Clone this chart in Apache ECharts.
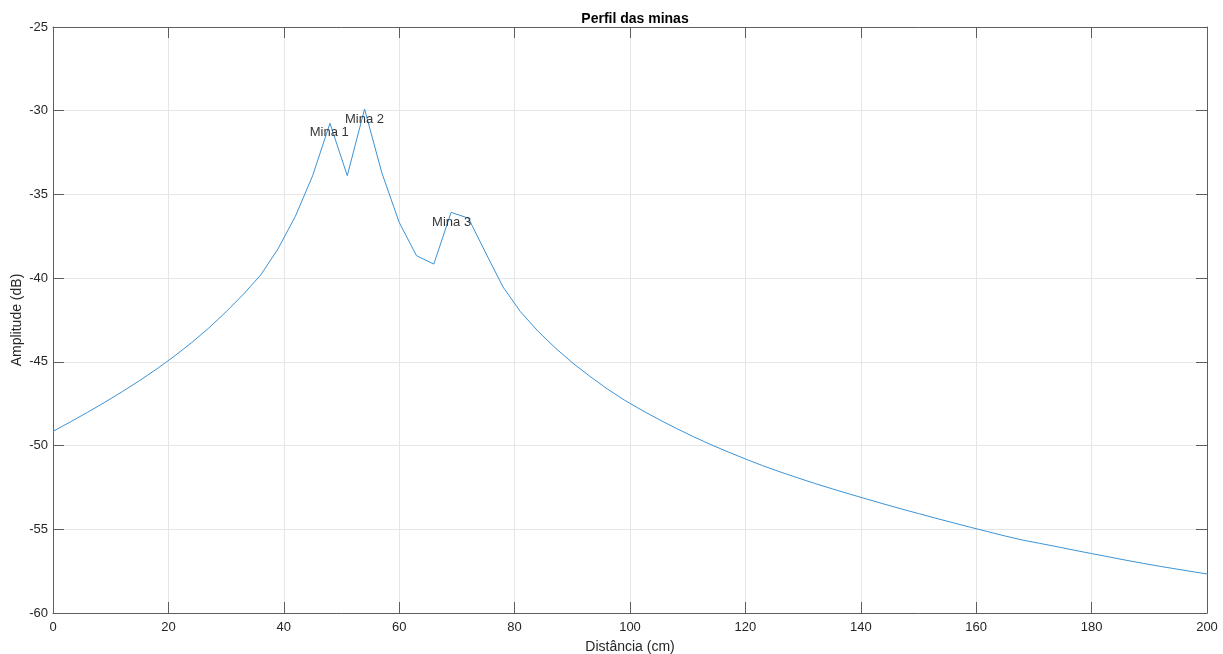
<!DOCTYPE html>
<html>
<head>
<meta charset="utf-8">
<title>Perfil das minas</title>
<script src="https://cdn.jsdelivr.net/npm/echarts@6/dist/echarts.min.js"></script>
<style>
  html, body { margin: 0; padding: 0; background: #ffffff; }
  #chart { width: 1223px; height: 654px; }
</style>
</head>
<body>
<div id="chart"></div>
<script>
// Scan positions along the track (cm)
const distance = [
  0, 3, 6, 9, 12, 15, 18, 21, 24, 27, 30, 33, 36, 39, 42, 45, 48, 51, 54, 57,
  60, 63, 66, 69, 72, 75, 78, 81, 84, 87, 90, 93, 96, 99, 102, 105, 108, 111,
  114, 117, 120, 123, 126, 129, 132, 135, 138, 141, 144, 147, 150, 153, 156,
  159, 162, 165, 168, 171, 174, 177, 180, 183, 186, 189, 192, 195, 198, 201
];

// Received amplitude at each position (dB)
const amplitude = [
  -49.15, -48.59, -48.01, -47.41, -46.78, -46.12, -45.42, -44.67, -43.86, -42.98,
  -42.01, -40.96, -39.81, -38.25, -36.31, -33.88, -30.75, -33.88, -29.90, -33.72,
  -36.67, -38.66, -39.16, -36.07, -36.42, -38.50, -40.53, -42.00, -43.15, -44.15,
  -45.05, -45.85, -46.60, -47.28, -47.88, -48.44, -48.97, -49.47, -49.94, -50.38,
  -50.80, -51.20, -51.57, -51.92, -52.26, -52.58, -52.89, -53.19, -53.49, -53.78,
  -54.06, -54.34, -54.61, -54.88, -55.14, -55.40, -55.64, -55.84, -56.04, -56.25,
  -56.45, -56.65, -56.85, -57.04, -57.22, -57.39, -57.56, -57.72
];

// Annotation anchors for the detected mines (left edge, vertical middle of text)
const mineNames = ['Mina 1', 'Mina 2', 'Mina 3'];
const mineX = [44.5, 50.6, 65.7];
const mineY = [-31.32, -30.54, -36.69];

// Axis ranges and tick spacing
const xRange = [0, 200];
const xStep = 20;
const yRange = [-60, -25];
const yStep = 5;

const profile = distance.map((d, i) => [d, amplitude[i]]);
const mines = mineNames.map((n, i) => ({ name: n, value: [mineX[i], mineY[i]] }));

const axisColor = '#5e5e5e';
const textColor = '#262626';
const fontFamily = 'Liberation Sans, Arial, Helvetica, sans-serif';

const chart = echarts.init(document.getElementById('chart'), null, { renderer: 'canvas' });

const baseAxis = {
  type: 'value',
  axisLine: { show: true, onZero: false, lineStyle: { color: axisColor, width: 1 } },
  axisTick: { show: true, inside: true, length: 11, lineStyle: { color: axisColor, width: 1 } },
  splitLine: { show: false },
  axisLabel: { show: false }
};

chart.setOption({
  animation: false,
  backgroundColor: '#ffffff',
  title: {
    text: 'Perfil das minas',
    left: 630,
    top: 7,
    textAlign: 'center',
    textStyle: { fontFamily, fontSize: 14, fontWeight: 'bold', color: '#000000' }
  },
  grid: {
    left: 53, right: 16, top: 27, bottom: 41,
    containLabel: false,
    outerBoundsMode: 'none'
  },
  xAxis: [
    Object.assign({}, baseAxis, {
      position: 'bottom',
      min: xRange[0], max: xRange[1], interval: xStep,
      name: 'Distância (cm)',
      nameLocation: 'middle',
      nameGap: 27,
      nameMoveOverlap: false,
      nameTextStyle: { fontFamily, fontSize: 14, color: textColor },
      splitLine: { show: true, lineStyle: { color: '#e6e6e6', width: 1 } },
      axisLabel: { show: true, margin: 8, fontFamily, fontSize: 13, color: textColor }
    }),
    Object.assign({}, baseAxis, {
      position: 'top',
      min: xRange[0], max: xRange[1], interval: xStep
    })
  ],
  yAxis: [
    Object.assign({}, baseAxis, {
      position: 'left',
      min: yRange[0], max: yRange[1], interval: yStep,
      name: 'Amplitude (dB)',
      nameLocation: 'middle',
      nameGap: 29,
      nameMoveOverlap: false,
      nameRotate: 90,
      nameTextStyle: { fontFamily, fontSize: 14, color: textColor },
      splitLine: { show: true, lineStyle: { color: '#e6e6e6', width: 1 } },
      axisLabel: { show: true, margin: 5, fontFamily, fontSize: 13, color: textColor }
    }),
    Object.assign({}, baseAxis, {
      position: 'right',
      min: yRange[0], max: yRange[1], interval: yStep
    })
  ],
  series: [
    {
      name: 'Perfil',
      type: 'line',
      xAxisIndex: 0,
      yAxisIndex: 0,
      data: profile,
      showSymbol: false,
      clip: true,
      lineStyle: { color: '#3b93d6', width: 1 },
      z: 3
    },
    {
      name: 'Minas',
      type: 'scatter',
      xAxisIndex: 0,
      yAxisIndex: 0,
      data: mines,
      symbolSize: 0,
      silent: true,
      label: {
        show: true,
        position: 'right',
        distance: 0,
        formatter: p => p.name,
        fontFamily,
        fontSize: 13,
        color: '#000000'
      },
      z: 4
    }
  ]
});
</script>
</body>
</html>
